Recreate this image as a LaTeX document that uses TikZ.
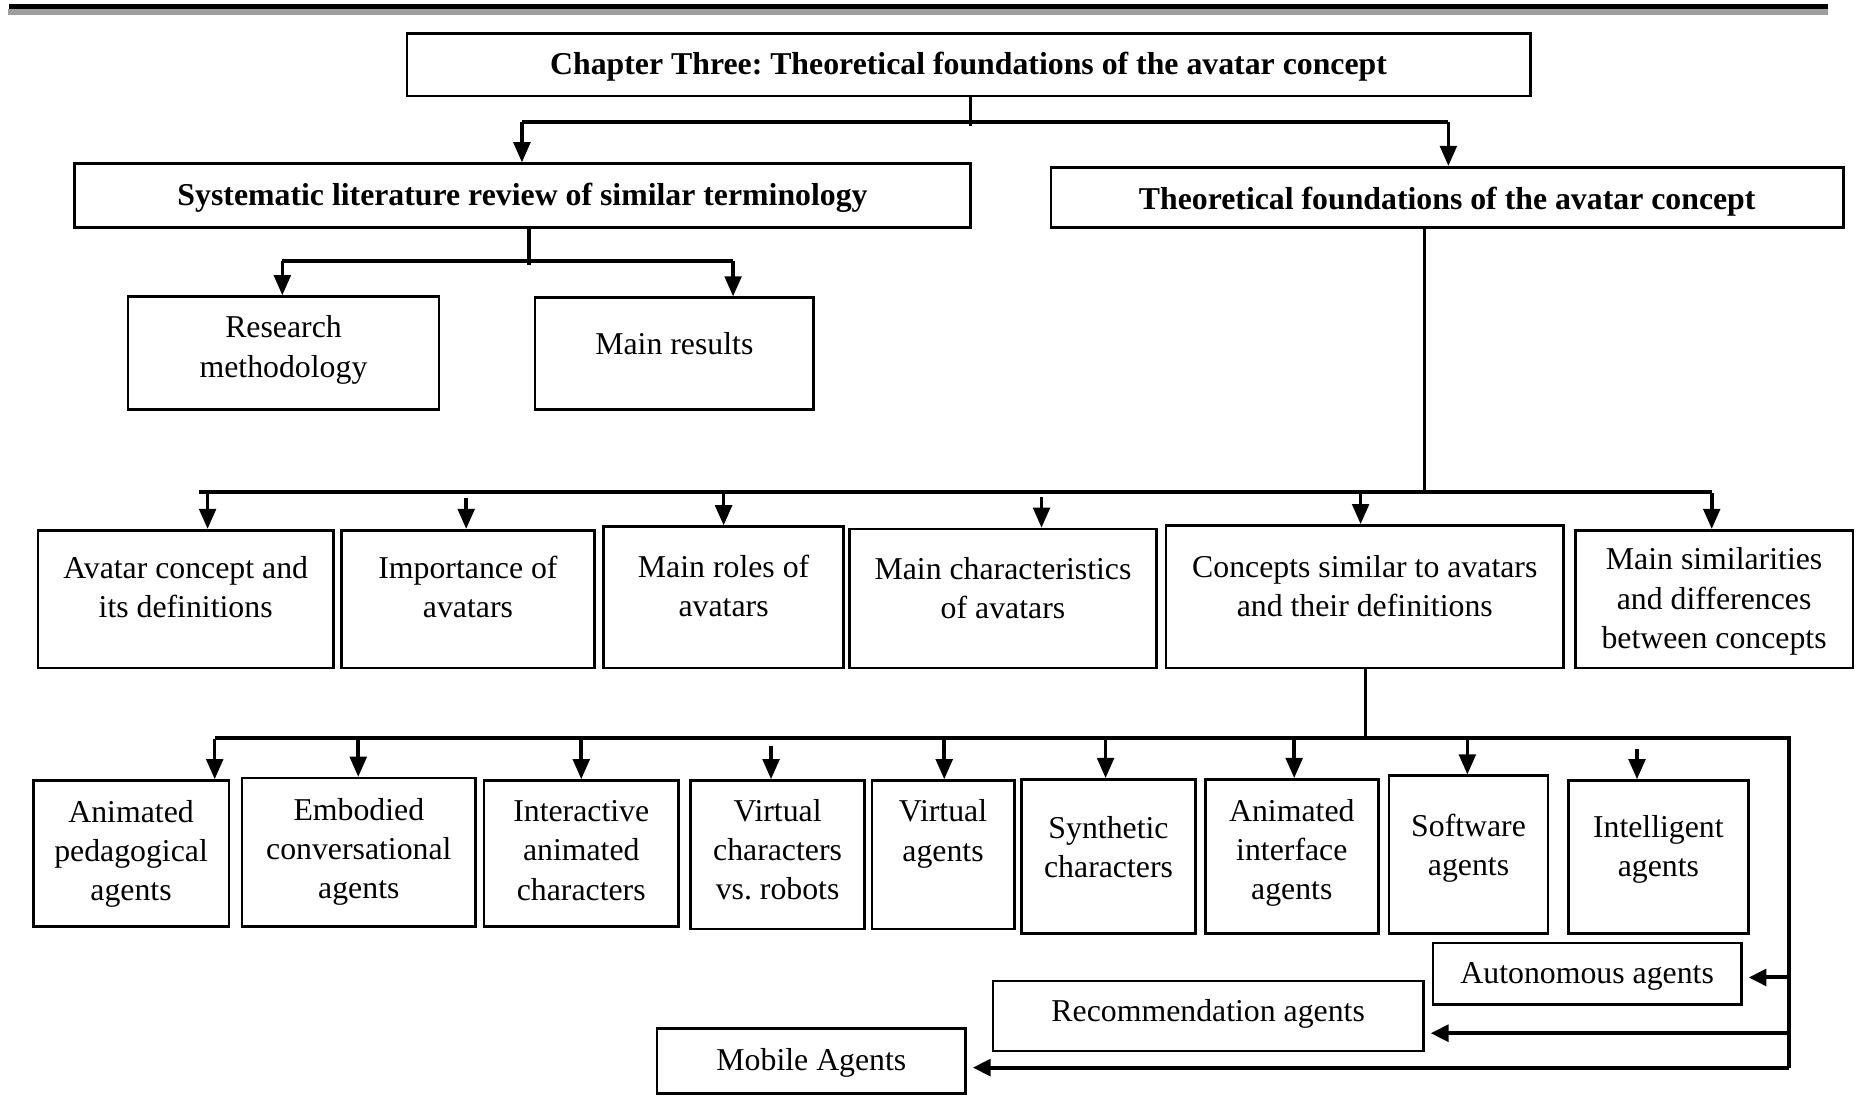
\documentclass[tikz,border=0pt]{standalone}
\usepackage{fontspec}
\setmainfont{Liberation Serif}
\usetikzlibrary{arrows.meta}
\frenchspacing
% box with corners (x1,y1)-(x2,y2), text centred at height ty
\newcommand\cbox[8][txtst]{%
  \node[boxst, minimum width={#5-#3}, minimum height={#6-#4}] (#2) at ({(#3+#5)/2},{(#4+#6)/2}) {};
  \node[#1] (#2-t) at ({(#3+#5)/2},#7) {#8};
}
\begin{document}
\begin{tikzpicture}[x=1pt,y=-1pt,
  boxst/.style={draw=black, line width=2.2pt, inner sep=0pt, fill=white},
  txtst/.style={align=center, inner sep=0pt, font=\fontsize{26.8}{33}\selectfont},
  head/.style={txtst, font=\fontsize{26.8}{33}\selectfont\bfseries},
  bus/.style={line width=3.6pt},
  link/.style={line width=3pt},
  arr/.style={line width=3pt, -{Triangle[length=17pt,width=14pt]}},
  larr/.style={line width=3.4pt, -{Triangle[length=15pt,width=14pt]}, shorten >=5pt},
]
\useasboundingbox (0,0) rectangle (1568,924);

% page header rule (thick black over grey)
\fill[black] (8,3.4) rectangle (1541,7.6);
\fill[black!38] (7,7.6) rectangle (1541,12.6);

% level 0 and 1
\cbox[head]{ch}{343}{28}{1290}{81}{56}{Chapter Three: Theoretical foundations of the avatar concept}
\cbox[head]{sys}{63}{138}{818}{192}{167}{Systematic literature review of similar terminology}
\cbox[head]{theo}{886}{141}{1554}{192}{170}{Theoretical foundations of the avatar concept}

% level 2 under the literature review
\cbox{res}{108}{250}{370}{345}{295}{Research\\methodology}
\cbox{mres}{451}{251}{686}{345}{290}{Main results}

% level 2 under the theoretical foundations
\cbox{r1}{32}{447}{281}{563}{495}{Avatar concept and\\its definitions}
\cbox{r2}{288}{447}{501}{563}{495}{Importance of\\avatars}
\cbox{r3}{509}{444}{711}{563}{494}{Main roles of\\avatars}
\cbox{r4}{716}{446}{975}{563}{496}{Main characteristics\\of avatars}
\cbox{r5}{983}{443}{1318}{563}{494}{Concepts similar to avatars\\and their definitions}
\cbox{r6}{1328}{447}{1562}{563}{507}{Main similarities\\and differences\\between concepts}

% level 3: similar concepts
\cbox{s1}{28}{658}{193}{781}{720}{Animated\\pedagogical\\agents}
\cbox{s2}{204}{656}{401}{781}{718}{Embodied\\conversational\\agents}
\cbox{s3}{408}{658}{572}{781}{717}{Interactive\\animated\\characters}
\cbox{s4}{582}{658}{729}{783}{716}{Virtual\\characters\\vs. robots}
\cbox{s5}{735}{658}{855}{783}{703}{Virtual\\agents}
\cbox{s6}{861}{657}{1008}{787}{714}{Synthetic\\characters}
\cbox{s7}{1016}{657}{1162}{787}{719}{Animated\\interface\\agents}
\cbox{s8}{1171}{654}{1305}{787}{715}{Software\\agents}
\cbox{s9}{1322}{658}{1474}{787}{716}{Intelligent\\agents}
\cbox{aut}{1208}{795}{1468}{847}{823}{Autonomous agents}
\cbox{rec}{837}{827}{1200}{886}{855}{Recommendation agents}
\cbox{mob}{554}{867}{814}{922}{896}{Mobile Agents}

% connectors: chapter -> two parts
\coordinate (b1m) at (818,103);
\coordinate (b1l) at (440,103);
\coordinate (b1r) at (1221,103);
\draw[link] (ch.south -| b1m) -- ([yshift=-3pt]b1m);
\draw[bus] (b1l) -- (b1r);
\draw[arr] (b1l) -- (sys.north -| b1l);
\draw[arr] (b1r) -- (theo.north -| b1r);

% literature review -> its sections
\coordinate (b2m) at (446,220);
\coordinate (b2l) at (238,220);
\coordinate (b2r) at (618,220);
\draw[link] (sys.south -| b2m) -- ([yshift=-3pt]b2m);
\draw[bus] (b2l) -- (b2r);
\draw[arr] (b2l) -- (res.north -| b2l);
\draw[arr] (b2r) -- (mres.north -| b2r);

% theoretical foundations -> its sections
\coordinate (b3m) at (1201,415);
\coordinate (b3l) at (168,415);
\coordinate (b3r) at (1443,415);
\draw[link] (theo.south -| b3m) -- (b3m);
\draw[bus] (b3l) -- (b3r);
\foreach \xx/\yy/\tg in {175/416/r1, 393/420/r2, 610/416/r3, 878/419/r4, 1147/416/r5, 1443/416/r6}{
  \coordinate (t-\tg) at (\xx,\yy);
  \draw[arr] (t-\tg) -- (\tg.north -| t-\tg);
}

% similar concepts -> individual concepts
\coordinate (b4m) at (1151,622);
\coordinate (b4l) at (181,622);
\coordinate (b4r) at (1508,622);
\coordinate (b4b) at (1508,900);
\draw[link] (r5.south -| b4m) -- (b4m);
\draw[bus, line join=miter] (b4l) -- (b4r) -- (b4b);
\foreach \xx/\yy/\tg in {181/623/s1, 302/623/s2, 490/623/s3, 650/629/s4, 796/623/s5, 932/623/s6, 1091/623/s7, 1237/623/s8, 1380/631/s9}{
  \coordinate (t-\tg) at (\xx,\yy);
  \draw[arr] (t-\tg) -- (\tg.north -| t-\tg);
}
\coordinate (e1) at (1508,824);
\coordinate (e2) at (1508,871);
\draw[larr] (e1) -- (e1 -| aut.east);
\draw[larr] (e2) -- (e2 -| rec.east);
\draw[larr] (b4b) -- (b4b -| mob.east);
\end{tikzpicture}
\end{document}
